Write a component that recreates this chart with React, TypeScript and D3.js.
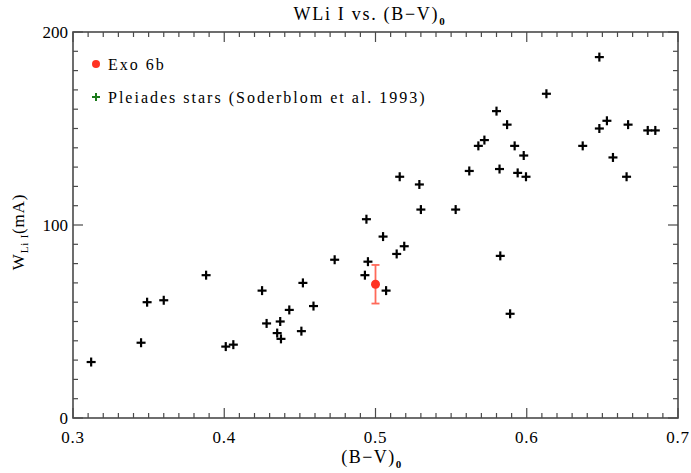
import React from "react";
import * as d3 from "d3";

const bvPleiades: number[] = [
  0.312, 0.345, 0.349, 0.360, 0.388, 0.425, 0.428, 0.401, 0.406, 0.452,
  0.443, 0.459, 0.437, 0.435, 0.4375, 0.451, 0.473, 0.494, 0.495, 0.493,
  0.505, 0.507, 0.514, 0.519, 0.516, 0.529, 0.530, 0.553, 0.562, 0.568,
  0.572, 0.580, 0.587, 0.592, 0.582, 0.5825, 0.589, 0.594, 0.598, 0.5995,
  0.613, 0.637, 0.648, 0.648, 0.653, 0.657, 0.666, 0.667, 0.680, 0.685,
];
const wliPleiades: number[] = [
  29, 39, 60, 61, 74, 66, 49, 37, 38, 70,
  56, 58, 50, 44, 41, 45, 82, 103, 81, 74,
  94, 66, 85, 89, 125, 121, 108, 108, 128, 141,
  144, 159, 152, 141, 129, 84, 54, 127, 136, 125,
  168, 141, 150, 187, 154, 135, 125, 152, 149, 149,
];
const exoBV = [0.5];
const exoW = [69.3];
const exoErr = [10];

const xTicks = [0.3, 0.4, 0.5, 0.6, 0.7];
const yTicks = [0, 100, 200];
const legendLabels = ["Exo 6b", "Pleiades stars (Soderblom et al. 1993)"];

const W = 691;
const H = 473;
const M = { left: 73, right: 678, top: 32, bottom: 418 };
const FONT = "'Liberation Serif', 'DejaVu Serif', serif";
const AXC = "#4a4a4a";

export default function App() {
  const x = d3.scaleLinear().domain([0.3, 0.7]).range([M.left, M.right]);
  const y = d3.scaleLinear().domain([0, 200]).range([M.bottom, M.top]);
  const xMinor = d3.range(0, 41).map((i) => 0.3 + i * 0.01);
  const yMinor = d3.range(0, 21).map((i) => i * 10);
  const isMajorX = (v: number) => Math.abs(v * 10 - Math.round(v * 10)) < 1e-6;
  const isMajorY = (v: number) => v % 100 === 0;
  const ps = 4.5;
  return (
    <svg width={W} height={H} style={{ position: "absolute", left: 0, top: 0, background: "#fff" }}>
      <rect x={0} y={0} width={W} height={H} fill="#fff" />
      {/* title */}
      <text x={370} y={20} textAnchor="middle" fontFamily={FONT} fontSize={18} letterSpacing={1.7} fill="#000">
        WLi I vs. (B−V)
        <tspan fontSize={11} dy={5} fontWeight="bold">0</tspan>
      </text>
      {/* ticks */}
      {xMinor.map((v, i) => {
        const L = isMajorX(v) ? 10 : 5;
        const px = x(v);
        return (
          <g key={"xt" + i}>
            <line x1={px} x2={px} y1={M.bottom} y2={M.bottom - L} stroke={AXC} strokeWidth={1.2} />
            <line x1={px} x2={px} y1={M.top} y2={M.top + L} stroke={AXC} strokeWidth={1.2} />
          </g>
        );
      })}
      {yMinor.map((v, i) => {
        const L = isMajorY(v) ? 10 : 5;
        const py = y(v);
        return (
          <g key={"yt" + i}>
            <line x1={M.left} x2={M.left + L} y1={py} y2={py} stroke={AXC} strokeWidth={1.2} />
            <line x1={M.right} x2={M.right - L} y1={py} y2={py} stroke={AXC} strokeWidth={1.2} />
          </g>
        );
      })}
      <rect x={M.left} y={M.top} width={M.right - M.left} height={M.bottom - M.top} fill="none" stroke={AXC} strokeWidth={1.6} />
      {xTicks.map((v) => (
        <text key={"xl" + v} x={x(v)} y={443} textAnchor="middle" fontFamily={FONT} fontSize={17} letterSpacing={0.8} fill="#000">
          {d3.format(".1f")(v)}
        </text>
      ))}
      {yTicks.map((v) => (
        <text key={"yl" + v} x={M.left - 5} y={y(v) + 6} textAnchor="end" fontFamily={FONT} fontSize={17} fill="#000">
          {v}
        </text>
      ))}
      {/* x label */}
      <text x={372} y={463} textAnchor="middle" fontFamily={FONT} fontSize={18} letterSpacing={1.5} fill="#000">
        (B−V)
        <tspan fontSize={11} dy={5} fontWeight="bold">0</tspan>
      </text>
      {/* y label */}
      <text transform={`translate(24,${232}) rotate(-90)`} textAnchor="middle" fontFamily={FONT} fontSize={17} letterSpacing={0.8} fill="#000">
        W
        <tspan fontSize={11} dy={4}>Li I</tspan>
        <tspan dy={-4}>(mA)</tspan>
      </text>
      {/* Pleiades points */}
      {bvPleiades.map((b, i) => {
        const px = x(b);
        const py = y(wliPleiades[i]);
        return (
          <g key={"p" + i} stroke="#000" strokeWidth={2.2}>
            <line x1={px - ps} x2={px + ps} y1={py} y2={py} />
            <line x1={px} x2={px} y1={py - ps} y2={py + ps} />
          </g>
        );
      })}
      {/* Exo 6b */}
      {exoBV.map((b, i) => {
        const px = x(b);
        const py = y(exoW[i]);
        const top = y(exoW[i] + exoErr[i]);
        const bot = y(exoW[i] - exoErr[i]);
        return (
          <g key={"e" + i}>
            <g stroke="#ff6a5a" strokeWidth={1.8}>
              <line x1={px} x2={px} y1={top} y2={bot} />
              <line x1={px - 4} x2={px + 4} y1={top} y2={top} />
              <line x1={px - 4} x2={px + 4} y1={bot} y2={bot} />
            </g>
            <circle cx={px} cy={py} r={4.5} fill="#ff3322" />
          </g>
        );
      })}
      {/* legend */}
      <circle cx={96} cy={64} r={4} fill="#ff3322" />
      <text x={108} y={70} fontFamily={FONT} fontSize={16} letterSpacing={2} fill="#000">
        {legendLabels[0]}
      </text>
      <g stroke="#1a7a1a" strokeWidth={2}>
        <line x1={92} x2={100} y1={97} y2={97} />
        <line x1={96} x2={96} y1={93} y2={101} />
      </g>
      <text x={108} y={103} fontFamily={FONT} fontSize={16} letterSpacing={2} fill="#000">
        {legendLabels[1]}
      </text>
    </svg>
  );
}
